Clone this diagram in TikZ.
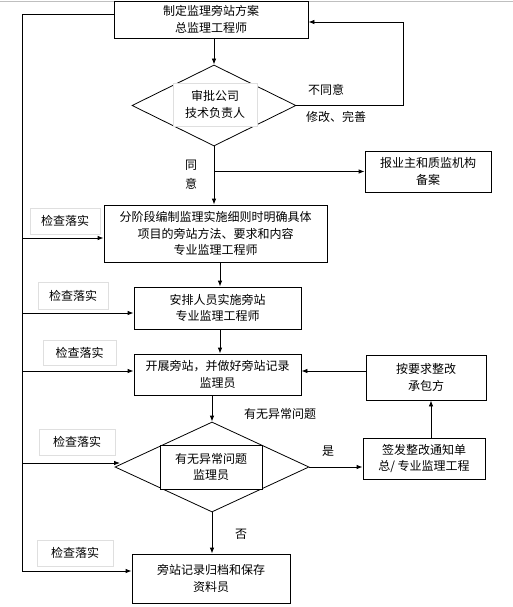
\documentclass[tikz,border=0pt]{standalone}
\usepackage{fontspec}
\setmainfont{Noto Sans CJK SC}
\usetikzlibrary{arrows.meta,shapes.geometric}
\tikzset{
  box/.style={draw, line width=0.8pt, inner sep=0pt, align=center, font=\fontsize{12}{16.5}\selectfont},
  lbl/.style={draw=gray!25, line width=0.6pt, inner sep=0pt, font=\fontsize{12}{14}\selectfont},
  dia/.style={draw, line width=0.8pt, diamond, inner sep=0pt},
  txt/.style={inner sep=0pt, font=\fontsize{12}{14}\selectfont},
  arr/.style={line width=0.8pt, -{Latex[length=6pt,width=4.5pt]}},
  ln/.style={line width=0.8pt}
}
\begin{document}
\begin{tikzpicture}[x=1pt,y=-1pt]
\useasboundingbox (0,0) rectangle (513,607);
\draw[gray!50, line width=0.8pt] (0,1) -- (513,1);
% main boxes
\node[box, minimum width=194pt, minimum height=37pt] (b1) at (211,19.5) {制定监理旁站方案\\总监理工程师};
\node[dia, minimum width=164pt, minimum height=81pt] (d1) at (214,105.5) {};
\node[box, draw=gray!25, fill=white, minimum width=84pt, minimum height=43pt] (d1t) at (215,104.5) {审批公司\\技术负责人};
\node[box, minimum width=126pt, minimum height=41pt] (b2) at (428,171.5) {报业主和质监机构\\备案};
\node[box, minimum width=223pt, minimum height=57pt] (b3) at (215.5,233.5) {分阶段编制监理实施细则时明确具体\\项目的旁站方法、要求和内容\\专业监理工程师};
\node[box, minimum width=167pt, minimum height=42pt] (b4) at (217.5,308) {安排人员实施旁站\\专业监理工程师};
\node[box, minimum width=167pt, minimum height=41pt] (b5) at (217.5,374.5) {开展旁站，并做好旁站记录\\监理员};
\node[box, minimum width=120pt, minimum height=45pt] (b6) at (426,377.5) {按要求整改\\承包方};
\node[dia, minimum width=194pt, minimum height=90pt] (d2) at (212,467) {};
\node[box, fill=white, minimum width=102pt, minimum height=44pt] (d2t) at (211,467) {有无异常问题\\监理员};
\node[box, minimum width=122pt, minimum height=41pt] (b8) at (424,458.5) {签发整改通知单\\总/ 专业监理工程};
\node[box, minimum width=158pt, minimum height=49pt] (b7) at (211,578.5) {旁站记录归档和保存\\资料员};
% check labels
\node[lbl, minimum width=70pt, minimum height=26pt] (k1) at (65,221) {检查落实};
\node[lbl, minimum width=70pt, minimum height=27pt] (k2) at (73,295.5) {检查落实};
\node[lbl, minimum width=73pt, minimum height=25pt] (k3) at (79.5,352.5) {检查落实};
\node[lbl, minimum width=76pt, minimum height=26pt] (k4) at (77,442) {检查落实};
\node[lbl, minimum width=76pt, minimum height=26pt] (k5) at (75,553) {检查落实};
% text labels
\node[txt] (t1) at (326,90) {不同意};
\node[txt] (t2) at (336,117) {修改、完善};
\node[txt] (t3) at (191,165) {同};
\node[txt] (t4) at (191,184) {意};
\node[txt] (t5) at (280,414) {有无异常问题};
\node[txt] (t6) at (328,451) {是};
\node[txt] (t7) at (241,534) {否};
% coordinates
\coordinate (Ltop) at (22,14);
\coordinate (Lbot) at (22,571);
\coordinate (R1) at (403,105.5);
\coordinate (R2) at (403,22);
% connectors
\draw[ln] (b1.west|-Ltop) -- (Ltop) -- (Lbot);
\draw[arr] (b1.south-|d1.north) -- (d1.north);
\draw[ln] (d1.east) -- (R1) -- (R2);
\draw[arr] (R2) -- (b1.east|-R2);
\draw[arr] (d1.south) -- (d1.south|-b3.north);
\draw[arr] (d1.south|-b2.west) -- (b2.west);
\draw[arr] (22,238) -- (b3.west|-0,238);
\draw[arr] (220,262) -- (b4.north-|220,0);
\draw[arr] (22,313) -- (b4.west|-0,313);
\draw[arr] (220,329) -- (b5.north-|220,0);
\draw[arr] (22,371) -- (b5.west|-0,371);
\draw[arr] (b6.west|-0,371) -- (b5.east|-0,371);
\draw[arr] (b5.south-|d2.north) -- (d2.north);
\draw[arr] (22,463) -- (120,463);
\draw[arr] (d2.east) -- (b8.west|-d2.east);
\draw[arr] (b8.north-|431,0) -- (b6.south-|431,0);
\draw[arr] (d2.south) -- (d2.south|-b7.north);
\draw[arr] (Lbot) -- (b7.west|-Lbot);
\end{tikzpicture}
\end{document}
